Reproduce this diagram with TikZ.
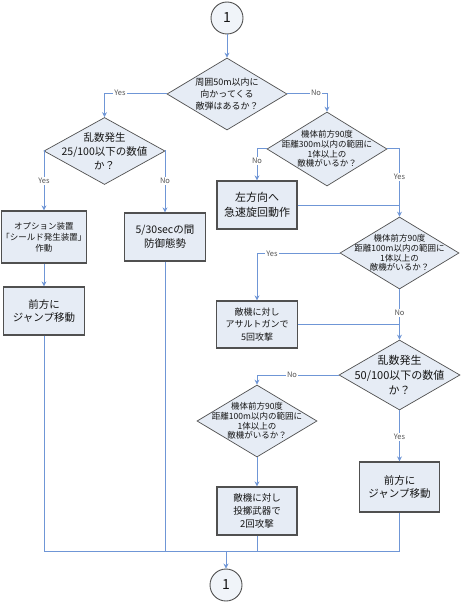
\documentclass[tikz,border=0pt]{standalone}
\usepackage{fontspec}
\setmainfont{Noto Sans CJK JP}
\usetikzlibrary{shapes.geometric,arrows.meta}
\definecolor{fillc}{HTML}{E6ECF5}
\definecolor{edgec}{HTML}{505050}
\definecolor{linec}{HTML}{6F96D6}
\definecolor{txtc}{HTML}{151515}
\definecolor{lblc}{HTML}{555555}
\tikzset{
  dia/.style={diamond, draw=edgec, fill=fillc, line width=0.7pt, inner sep=0pt},
  boxn/.style={rectangle, draw=edgec, fill=fillc, line width=1.2pt, inner sep=0pt},
  circn/.style={circle, draw=edgec, fill=fillc!60!white, line width=0.9pt, minimum size=32pt, inner sep=0pt, font=\fontsize{14}{16}\selectfont, text=txtc},
  txs/.style={align=center, text=txtc, font=\fontsize{8.5}{9.8}\selectfont},
  txm/.style={align=center, text=txtc, font=\fontsize{9}{12.3}\selectfont},
  txl/.style={align=center, text=txtc, font=\fontsize{10.5}{13.8}\selectfont},
  txx/.style={align=center, text=txtc, font=\fontsize{11}{15}\selectfont},
  conn/.style={draw=linec, line width=1pt},
  arr/.style={conn, -{Stealth[length=5pt,width=5pt]}},
  lbl/.style={fill=white, inner sep=1pt, text=lblc, font=\fontsize{7.5}{8}\selectfont}
}
\begin{document}
\begin{tikzpicture}[x=1pt,y=-1pt]
\useasboundingbox[fill=white] (0,0) rectangle (460,604);
% circles
\node[circn] (c1) at (227,18) {1};
\node[circn] (c2) at (226,585) {1};
% diamonds
\node[dia, minimum width=120pt, minimum height=72pt] (d1) at (227,94) {};
\node[txm] (t1) at (d1) {周囲50m以内に\\向かってくる\\敵弾はあるか？};
\node[dia, minimum width=121pt, minimum height=67pt] (d2) at (104.5,151) {};
\node[txl] (t2) at (d2) {乱数発生\\25/100以下の数値\\か？};
\node[dia, minimum width=120pt, minimum height=74pt] (d3) at (327,149) {};
\node[txs] (t3) at (d3) {機体前方90度\\距離300m以内の範囲に\\1体以上の\\敵機がいるか？};
\node[dia, minimum width=119pt, minimum height=72pt] (d4) at (399.5,253) {};
\node[txs] (t4) at (d4) {機体前方90度\\距離100m以内の範囲に\\1体以上の\\敵機がいるか？};
\node[dia, minimum width=121pt, minimum height=70pt] (d5) at (399.5,375) {};
\node[txx] (t5) at (d5) {乱数発生\\50/100以下の数値\\か？};
\node[dia, minimum width=120pt, minimum height=72pt] (d6) at (257,421) {};
\node[txs] (t6) at (d6) {機体前方90度\\距離100m以内の範囲に\\1体以上の\\敵機がいるか？};
% boxes
\node[boxn, minimum width=85pt, minimum height=52pt] (b1) at (44,237) {};
\node[txs, font=\fontsize{8.5}{11}\selectfont] (tb1) at (b1) {オプション装置\\「シールド発生装置」\\作動};
\node[boxn, minimum width=81pt, minimum height=48pt] (b3) at (44,311) {};
\node[txl] (tb3) at (b3) {前方に\\ジャンプ移動};
\node[boxn, minimum width=81pt, minimum height=48pt] (b2) at (165,237) {};
\node[txl] (tb2) at (b2) {5/30secの間\\防御態勢};
\node[boxn, minimum width=80pt, minimum height=48pt] (b4) at (257,205) {};
\node[txx] (tb4) at (b4) {左方向へ\\急速旋回動作};
\node[boxn, minimum width=81pt, minimum height=47pt] (b5) at (257,324.5) {};
\node[txm] (tb5) at (b5) {敵機に対し\\アサルトガンで\\5回攻撃};
\node[boxn, minimum width=80pt, minimum height=48pt] (b6) at (257,511) {};
\node[txm, font=\fontsize{9.5}{13}\selectfont] (tb6) at (b6) {敵機に対し\\投擲武器で\\2回攻撃};
\node[boxn, minimum width=80pt, minimum height=50pt] (b7) at (399.5,487) {};
\node[txl] (tb7) at (b7) {前方に\\ジャンプ移動};
\coordinate (m) at (226,551);
% connectors
\draw[arr] (c1.south) -- (d1.north);
\draw[arr] (d1.west) -| (d2.north);
\draw[arr] (d1.east) -| (d3.north);
\draw[arr] (d2.west) -| (b1.north);
\draw[arr] (d2.east) -| (b2.north);
\draw[arr] (b1.south) -- (b3.north);
\draw[arr] (d3.west) -| (b4.north);
\draw[arr] (d3.east) -| (d4.north);
\draw[conn] (b4.east) -- (d4.north |- b4.east);
\draw[arr] (d4.west) -| (b5.north);
\draw[arr] (d4.south) -- (d5.north);
\draw[conn] (b5.east) -- (d5.north |- b5.east);
\draw[arr] (d5.west) -| (d6.north);
\draw[arr] (d6.south) -- (b6.north);
\draw[arr] (d5.south) -- (b7.north);
\draw[conn] (b3.south) -- (b3.south |- m) -- (b7.south |- m) -- (b7.south);
\draw[conn] (b2.south) -- (b2.south |- m);
\draw[conn] (b6.south) -- (b6.south |- m);
\draw[arr] (m) -- (c2.north);
% labels
\node[lbl] (l1) at (120,93) {Yes};
\node[lbl] (l2) at (316,93) {No};
\node[lbl] (l3) at (44,181) {Yes};
\node[lbl] (l4) at (165,181) {No};
\node[lbl] (l5) at (257,161) {No};
\node[lbl] (l6) at (399.5,177) {Yes};
\node[lbl] (l7) at (272,254) {Yes};
\node[lbl] (l8) at (399.5,313) {No};
\node[lbl] (l9) at (292,375) {No};
\node[lbl] (l10) at (399.5,437) {Yes};
\end{tikzpicture}
\end{document}
